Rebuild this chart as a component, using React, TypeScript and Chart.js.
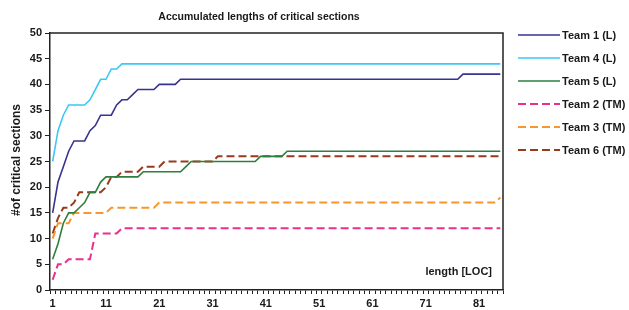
import React, { useEffect, useRef } from "react";
import { Chart, registerables } from "chart.js";

Chart.register(...registerables);

const categories = [
  "1", "2", "3", "4", "5", "6", "7", "8", "9", "10",
  "11", "12", "13", "14", "15", "16", "17", "18", "19", "20",
  "21", "22", "23", "24", "25", "26", "27", "28", "29", "30",
  "31", "32", "33", "34", "35", "36", "37", "38", "39", "40",
  "41", "42", "43", "44", "45", "46", "47", "48", "49", "50",
  "51", "52", "53", "54", "55", "56", "57", "58", "59", "60",
  "61", "62", "63", "64", "65", "66", "67", "68", "69", "70",
  "71", "72", "73", "74", "75", "76", "77", "78", "79", "80",
  "81", "82", "83", "84", "85",
];

const xTickLabels = ["1", "11", "21", "31", "41", "51", "61", "71", "81"];

const team1 = [
  15, 21, 24, 27, 29, 29, 29, 31, 32, 34,
  34, 34, 36, 37, 37, 38, 39, 39, 39, 39,
  40, 40, 40, 40, 41, 41, 41, 41, 41, 41,
  41, 41, 41, 41, 41, 41, 41, 41, 41, 41,
  41, 41, 41, 41, 41, 41, 41, 41, 41, 41,
  41, 41, 41, 41, 41, 41, 41, 41, 41, 41,
  41, 41, 41, 41, 41, 41, 41, 41, 41, 41,
  41, 41, 41, 41, 41, 41, 41, 42, 42, 42,
  42, 42, 42, 42, 42,
];

const team4 = [
  25, 31, 34, 36, 36, 36, 36, 37, 39, 41,
  41, 43, 43, 44, 44, 44, 44, 44, 44, 44,
  44, 44, 44, 44, 44, 44, 44, 44, 44, 44,
  44, 44, 44, 44, 44, 44, 44, 44, 44, 44,
  44, 44, 44, 44, 44, 44, 44, 44, 44, 44,
  44, 44, 44, 44, 44, 44, 44, 44, 44, 44,
  44, 44, 44, 44, 44, 44, 44, 44, 44, 44,
  44, 44, 44, 44, 44, 44, 44, 44, 44, 44,
  44, 44, 44, 44, 44,
];

const team5 = [
  6, 9, 13, 15, 15, 16, 17, 19, 19, 21,
  22, 22, 22, 22, 22, 22, 22, 23, 23, 23,
  23, 23, 23, 23, 23, 24, 25, 25, 25, 25,
  25, 25, 25, 25, 25, 25, 25, 25, 25, 26,
  26, 26, 26, 26, 27, 27, 27, 27, 27, 27,
  27, 27, 27, 27, 27, 27, 27, 27, 27, 27,
  27, 27, 27, 27, 27, 27, 27, 27, 27, 27,
  27, 27, 27, 27, 27, 27, 27, 27, 27, 27,
  27, 27, 27, 27, 27,
];

const team2 = [
  2, 5, 5, 6, 6, 6, 6, 6, 11, 11,
  11, 11, 11, 12, 12, 12, 12, 12, 12, 12,
  12, 12, 12, 12, 12, 12, 12, 12, 12, 12,
  12, 12, 12, 12, 12, 12, 12, 12, 12, 12,
  12, 12, 12, 12, 12, 12, 12, 12, 12, 12,
  12, 12, 12, 12, 12, 12, 12, 12, 12, 12,
  12, 12, 12, 12, 12, 12, 12, 12, 12, 12,
  12, 12, 12, 12, 12, 12, 12, 12, 12, 12,
  12, 12, 12, 12, 12,
];

const team3 = [
  10, 13, 13, 13, 15, 15, 15, 15, 15, 15,
  15, 16, 16, 16, 16, 16, 16, 16, 16, 16,
  17, 17, 17, 17, 17, 17, 17, 17, 17, 17,
  17, 17, 17, 17, 17, 17, 17, 17, 17, 17,
  17, 17, 17, 17, 17, 17, 17, 17, 17, 17,
  17, 17, 17, 17, 17, 17, 17, 17, 17, 17,
  17, 17, 17, 17, 17, 17, 17, 17, 17, 17,
  17, 17, 17, 17, 17, 17, 17, 17, 17, 17,
  17, 17, 17, 17, 18,
];

const team6 = [
  11, 14, 16, 16, 17, 19, 19, 19, 19, 19,
  20, 22, 22, 23, 23, 23, 23, 24, 24, 24,
  24, 25, 25, 25, 25, 25, 25, 25, 25, 25,
  25, 26, 26, 26, 26, 26, 26, 26, 26, 26,
  26, 26, 26, 26, 26, 26, 26, 26, 26, 26,
  26, 26, 26, 26, 26, 26, 26, 26, 26, 26,
  26, 26, 26, 26, 26, 26, 26, 26, 26, 26,
  26, 26, 26, 26, 26, 26, 26, 26, 26, 26,
  26, 26, 26, 26, 26,
];

const seriesNames = ["Team 1 (L)", "Team 4 (L)", "Team 5 (L)", "Team 2 (TM)", "Team 3 (TM)", "Team 6 (TM)"];
const seriesColors = ["#38338f", "#3cc8f2", "#2e7f3f", "#e8318a", "#f7962e", "#993a1c"];

const chartTitle = "Accumulated lengths of critical sections";
const yTitle = "#of critical sections";
const xTitle = "length [LOC]";

const FONT = "'Liberation Sans', Arial, sans-serif";

const decorPlugin = {
  id: "decor",
  afterDraw(chart: any) {
    const { ctx, chartArea } = chart;
    ctx.save();
    // frame top + right
    ctx.strokeStyle = "#222";
    ctx.lineWidth = 1.5;
    ctx.setLineDash([]);
    ctx.beginPath();
    ctx.moveTo(chartArea.left, chartArea.top);
    ctx.lineTo(chartArea.right, chartArea.top);
    ctx.lineTo(chartArea.right, chartArea.bottom);
    ctx.stroke();

    ctx.fillStyle = "#1a1a1a";
    // title
    ctx.font = `bold 10.5px ${FONT}`;
    ctx.textAlign = "center";
    ctx.textBaseline = "middle";
    ctx.fillText(chartTitle, 259, 17);

    // x label inside plot
    ctx.font = `bold 11px ${FONT}`;
    ctx.textAlign = "right";
    ctx.fillText(xTitle, 492, 272);

    // y title
    ctx.save();
    ctx.translate(17, 160);
    ctx.rotate(-Math.PI / 2);
    ctx.font = `bold 12px ${FONT}`;
    ctx.textAlign = "center";
    ctx.fillText(yTitle, 0, 0);
    ctx.restore();

    // legend
    chart.data.datasets.forEach((ds: any, i: number) => {
      const y = 35 + i * 23;
      ctx.strokeStyle = ds.borderColor;
      ctx.lineWidth = ds.borderWidth;
      ctx.setLineDash(ds.borderDash || []);
      ctx.beginPath();
      ctx.moveTo(518, y);
      ctx.lineTo(560, y);
      ctx.stroke();
      ctx.setLineDash([]);
      ctx.fillStyle = "#1a1a1a";
      ctx.font = `bold 11px ${FONT}`;
      ctx.textAlign = "left";
      ctx.textBaseline = "middle";
      ctx.fillText(ds.label, 562, y + 0.5);
    });
    ctx.restore();
  },
};

export default function App() {
  const ref = useRef<HTMLCanvasElement | null>(null);

  useEffect(() => {
    if (!ref.current) return;
    const values = [team1, team4, team5, team2, team3, team6];
    const dashed = [false, false, false, true, true, true];
    const chart = new Chart(ref.current, {
      type: "line",
      data: {
        labels: categories,
        datasets: values.map((v, i) => ({
          label: seriesNames[i],
          data: v,
          borderColor: seriesColors[i],
          backgroundColor: seriesColors[i],
          borderWidth: dashed[i] ? 2 : 1.6,
          borderDash: dashed[i] ? [8, 4] : [],
          pointRadius: 0,
          tension: 0,
          fill: false,
        })),
      },
      options: {
        animation: false,
        responsive: false,
        devicePixelRatio: 1,
        layout: { padding: { top: 33, right: 126, bottom: 0, left: 0 } },
        plugins: {
          legend: { display: false },
          title: { display: false },
          tooltip: { enabled: false },
        },
        scales: {
          x: {
            type: "category",
            offset: true,
            afterFit: (s: any) => { s.height = 20; },
            grid: {
              offset: true,
              drawOnChartArea: false,
              drawTicks: true,
              tickLength: 4,
              color: "#222",
              lineWidth: 1,
            },
            border: { display: true, color: "#222", width: 1.5 },
            ticks: {
              autoSkip: false,
              maxRotation: 0,
              padding: 3,
              color: "#1a1a1a",
              font: { family: FONT, size: 11, weight: "bold" },
              callback: (_v: any, i: number) => {
                const lab = categories[i];
                return xTickLabels.includes(lab) ? lab : "";
              },
            },
          },
          y: {
            min: 0,
            max: 50,
            afterFit: (s: any) => { s.width = 50; },
            grid: {
              drawOnChartArea: false,
              drawTicks: true,
              tickLength: 5,
              color: "#222",
              lineWidth: 1,
            },
            border: { display: true, color: "#222", width: 1.5 },
            ticks: {
              stepSize: 5,
              padding: 3,
              color: "#1a1a1a",
              font: { family: FONT, size: 11, weight: "bold" },
            },
          },
        },
      },
      plugins: [decorPlugin],
    });
    return () => chart.destroy();
  }, []);

  return (
    <div style={{ position: "fixed", left: 0, top: 0, width: 629, height: 310, background: "#fff" }}>
      <canvas ref={ref} width={629} height={310} style={{ width: 629, height: 310, display: "block" }} />
    </div>
  );
}
